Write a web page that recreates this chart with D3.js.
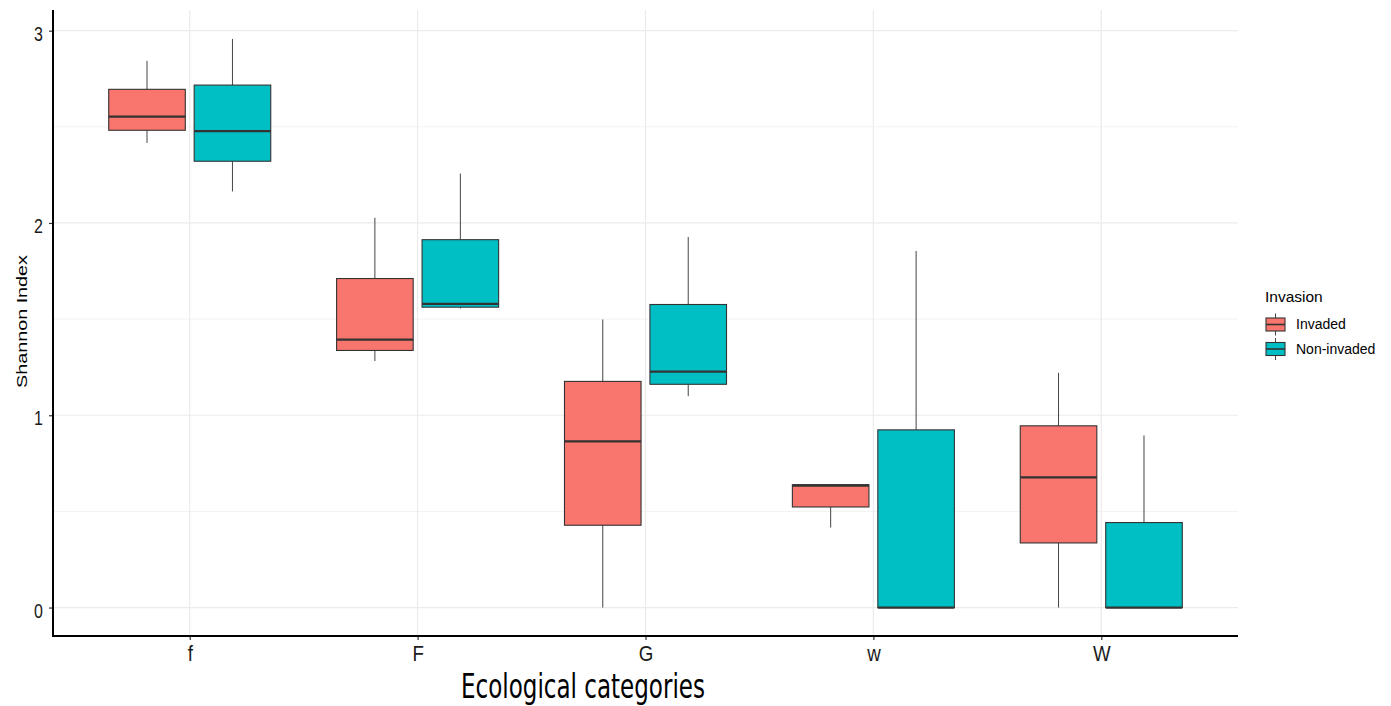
<!DOCTYPE html>
<html><head><meta charset="utf-8">
<script src="https://cdn.jsdelivr.net/npm/d3@7"></script>
<style>body{margin:0;background:#fff}svg{display:block}</style>
</head><body>
<svg id="c" width="1391" height="706"></svg>
<script>
const categories = ["f","F","G","w","W"];
const groups = ["Invaded","Non-invaded"];
const colors = ["#F8766D","#00BFC4"];
const yTicks = [0,1,2,3];
const yMinor = [0.5,1.5,2.5];
// five-number summaries per category
const invadedLow    = [2.416,1.282,0.000,0.416,0.000];
const invadedQ1     = [2.482,1.337,0.428,0.523,0.336];
const invadedMedian = [2.553,1.393,0.864,0.634,0.677];
const invadedQ3     = [2.695,1.711,1.176,0.639,0.945];
const invadedHigh   = [2.843,2.027,1.498,0.639,1.221];
const nonLow    = [2.164,1.555,1.099,0.000,0.000];
const nonQ1     = [2.321,1.562,1.161,0.000,0.000];
const nonMedian = [2.478,1.579,1.227,0.000,0.000];
const nonQ3     = [2.717,1.913,1.576,0.924,0.442];
const nonHigh   = [2.957,2.257,1.927,1.854,0.895];

const svg = d3.select("#c");
const L = 53, R = 1238, T = 10, B = 636;
const y = d3.scaleLinear().domain([-0.148, 3.1075]).range([B, T]);
const x = d3.scalePoint().domain(categories).range([L, R]).padding(0.6);
const step = x.step();
const dodge = step * 0.1875;
const bw = step * 0.336;

const g = svg.append("g");
// grid
g.selectAll(".ymin").data(yMinor).enter().append("line")
  .attr("x1", L).attr("x2", R).attr("y1", d=>y(d)).attr("y2", d=>y(d))
  .attr("stroke", "#f2f2f2").attr("stroke-width", 1);
g.selectAll(".ymaj").data(yTicks).enter().append("line")
  .attr("x1", L).attr("x2", R).attr("y1", d=>y(d)).attr("y2", d=>y(d))
  .attr("stroke", "#ebebeb").attr("stroke-width", 1.2);
g.selectAll(".xmaj").data(categories).enter().append("line")
  .attr("x1", d=>x(d)).attr("x2", d=>x(d)).attr("y1", T).attr("y2", B)
  .attr("stroke", "#ebebeb").attr("stroke-width", 1.2);

const series = [
  {name: groups[0], color: colors[0], off: -dodge, lo: invadedLow, q1: invadedQ1, med: invadedMedian, q3: invadedQ3, hi: invadedHigh},
  {name: groups[1], color: colors[1], off: dodge, lo: nonLow, q1: nonQ1, med: nonMedian, q3: nonQ3, hi: nonHigh}
];
series.forEach(s => {
  categories.forEach((c, i) => {
    const cx = x(c) + s.off;
    const bg = g.append("g");
    bg.append("line").attr("x1", cx).attr("x2", cx).attr("y1", y(s.q3[i])).attr("y2", y(s.hi[i]))
      .attr("stroke", "#444").attr("stroke-width", 1);
    bg.append("line").attr("x1", cx).attr("x2", cx).attr("y1", y(s.q1[i])).attr("y2", y(s.lo[i]))
      .attr("stroke", "#444").attr("stroke-width", 1);
    bg.append("rect").attr("x", cx - bw/2).attr("width", bw)
      .attr("y", y(s.q3[i])).attr("height", Math.max(0, y(s.q1[i]) - y(s.q3[i])))
      .attr("fill", s.color).attr("stroke", "#333").attr("stroke-width", 1.1);
    bg.append("line").attr("x1", cx - bw/2).attr("x2", cx + bw/2).attr("y1", y(s.med[i])).attr("y2", y(s.med[i]))
      .attr("stroke", "#333").attr("stroke-width", 2.2);
  });
});

// axes
const yAxis = d3.axisLeft(y).tickValues(yTicks).tickSize(4).tickPadding(6).tickFormat(d3.format("d"));
const ya = svg.append("g").attr("transform", `translate(${L},0)`).call(yAxis);
ya.select(".domain").remove();
ya.selectAll(".tick line").attr("stroke", "#333").attr("stroke-width", 1.2);
ya.selectAll(".tick text").attr("font-family", "Liberation Sans, Arial, sans-serif").attr("font-size", 19.5)
  .attr("fill", "#1a1a1a").attr("x", 0).attr("dy", "0.49em").attr("transform", "translate(-10,0) scale(0.82,1)");
const xAxis = d3.axisBottom(x).tickSize(4).tickPadding(6);
const xa = svg.append("g").attr("transform", `translate(0,${B})`).call(xAxis);
xa.select(".domain").remove();
xa.selectAll(".tick line").attr("stroke", "#333").attr("stroke-width", 1.2);
xa.selectAll(".tick text").attr("font-family", "Liberation Sans, Arial, sans-serif").attr("font-size", 21.5)
  .attr("fill", "#1a1a1a").attr("transform", "scale(0.87,1)");
svg.append("line").attr("x1", L).attr("x2", L).attr("y1", T).attr("y2", B+1).attr("stroke", "#000").attr("stroke-width", 2);
svg.append("line").attr("x1", L-1).attr("x2", R).attr("y1", B).attr("y2", B).attr("stroke", "#000").attr("stroke-width", 2);

// titles
svg.append("text").attr("transform", `translate(27,321.5) rotate(-90)`)
  .attr("text-anchor", "middle").attr("font-family", "Liberation Sans, Arial, sans-serif")
  .attr("font-size", 15.5).attr("textLength", 133).attr("lengthAdjust", "spacingAndGlyphs")
  .attr("fill", "#000").text("Shannon Index");
svg.append("text").attr("x", 583).attr("y", 698).attr("text-anchor", "middle")
  .attr("font-family", "Liberation Sans Narrow, DejaVu Sans Condensed, sans-serif")
  .attr("font-size", 33).attr("textLength", 244).attr("lengthAdjust", "spacingAndGlyphs")
  .attr("fill", "#000").text("Ecological categories");

// legend
const lg = svg.append("g");
lg.append("text").attr("x", 1265).attr("y", 301.5).attr("font-family", "Liberation Sans, Arial, sans-serif")
  .attr("font-size", 15.5).attr("fill", "#000").text("Invasion");
groups.forEach((nm, i) => {
  const cy = 324.5 + i * 24.5;
  const kx = 1275.5;
  lg.append("line").attr("x1", kx).attr("x2", kx).attr("y1", cy - 11).attr("y2", cy + 11)
    .attr("stroke", "#444").attr("stroke-width", 1);
  lg.append("rect").attr("x", kx - 9.5).attr("y", cy - 6.5).attr("width", 19).attr("height", 13)
    .attr("fill", colors[i]).attr("stroke", "#333").attr("stroke-width", 1.1);
  lg.append("line").attr("x1", kx - 9.5).attr("x2", kx + 9.5).attr("y1", cy).attr("y2", cy)
    .attr("stroke", "#333").attr("stroke-width", 1.6);
  lg.append("text").attr("x", 1296).attr("y", cy + 4.8).attr("font-family", "Liberation Sans, Arial, sans-serif")
    .attr("font-size", 14).attr("fill", "#000").text(nm);
});
</script>
</body></html>
